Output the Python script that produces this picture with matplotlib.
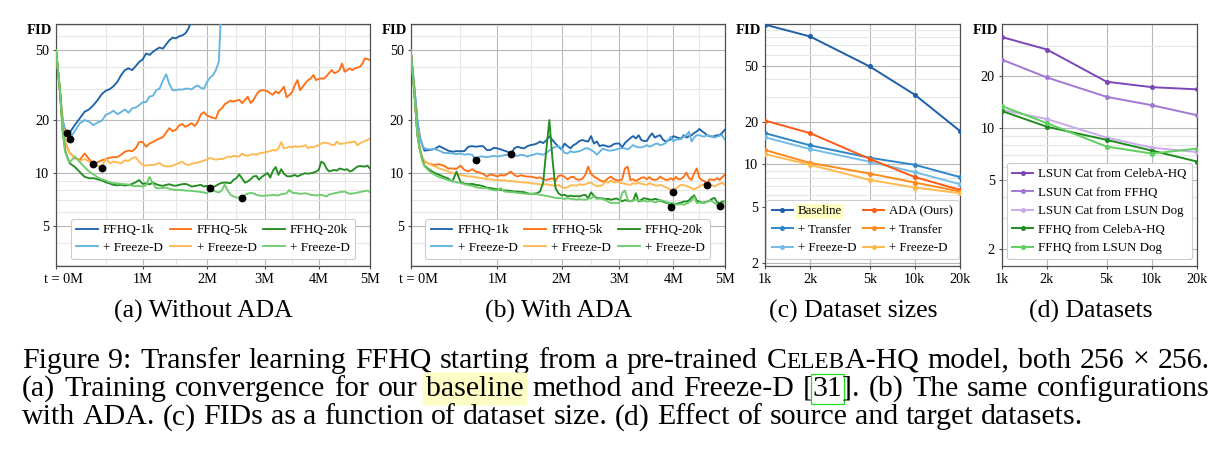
import numpy as np
import matplotlib
matplotlib.use("Agg")
import matplotlib.pyplot as plt
from matplotlib.ticker import FixedLocator, NullFormatter, LogLocator

plt.rcParams['font.family'] = ['Liberation Serif', 'DejaVu Serif']

nan = np.nan

# ---------------- data: training curves (time in millions of images) ----------------
T = [0, 0.02, 0.04, 0.06, 0.08,
     0.1, 0.15, 0.2, 0.25, 0.3, 0.35, 0.4, 0.45, 0.5, 0.55, 0.6, 0.65, 0.7, 0.75, 0.8, 0.85, 0.9, 0.95, 1.0,
     1.05, 1.1, 1.15, 1.2, 1.25, 1.3, 1.35, 1.4, 1.45, 1.5, 1.55, 1.6, 1.65, 1.7, 1.75, 1.8, 1.85, 1.9, 1.95, 2.0,
     2.05, 2.1, 2.15, 2.2, 2.25, 2.3, 2.35, 2.4, 2.45, 2.5, 2.55, 2.6, 2.65, 2.7, 2.75, 2.8, 2.85, 2.9, 2.95, 3.0,
     3.05, 3.1, 3.15, 3.2, 3.25, 3.3, 3.35, 3.4, 3.45, 3.5, 3.55, 3.6, 3.65, 3.7, 3.75, 3.8, 3.85, 3.9, 3.95, 4.0,
     4.05, 4.1, 4.15, 4.2, 4.25, 4.3, 4.35, 4.4, 4.45, 4.5, 4.55, 4.6, 4.65, 4.7, 4.75, 4.8, 4.85, 4.9, 4.95, 5.0]

# (a) without ADA
A_1K = [50, 30, 20, 17.5, 16.8,
        17.0, 18.8, 20.5, 22.3, 23.0, 24.3, 26.0, 28.1, 29.4, 30.0, 31.2, 33.0, 36.1, 38.5, 39.4, 38.5, 40.5, 42.9, 44.3,
        47.9, 47.0, 48.9, 50.5, 51.8, 51.0, 54.0, 57.0, 58.9, 58.4, 59.9, 60.7, 62.3, 66.4, 74.0, 90.0] + [nan] * 64
A_1K_FD = [50, 30, 20, 17.5, 16.2,
           15.7, 17.4, 19.2, 20.0, 19.6, 18.7, 19.4, 19.8, 21.4, 21.9, 22.6, 21.6, 22.2, 23.0, 22.0, 23.3, 23.6, 24.3, 25.3,
           25.3, 27.2, 27.5, 29.6, 30.2, 33.5, 36.5, 32.0, 29.6, 29.6, 29.9, 29.8, 30.2, 30.2, 29.9, 30.9, 31.5, 30.5, 30.2, 32.8,
           34.8, 36.0, 38.5, 43.0, 100.0] + [nan] * 55
A_5K = [50, 30, 19, 15.5, 13.8,
        13.0, 12.1, 11.9, 12.9, 12.0, 11.2, 11.5, 11.8, 12.0, 12.2, 12.3, 12.3, 12.7, 13.2, 13.4, 13.3, 13.8, 15.0, 15.0,
        14.1, 14.7, 15.0, 15.4, 15.7, 16.0, 17.0, 18.0, 17.3, 17.6, 18.6, 19.0, 18.3, 18.7, 19.2, 18.5, 19.5, 21.5, 22.2, 21.3,
        20.9, 20.6, 20.4, 22.6, 23.3, 24.6, 25.2, 25.8, 25.5, 25.8, 26.1, 25.0, 26.0, 27.2, 25.0, 26.0, 27.8, 29.2, 29.6, 29.5,
        29.2, 28.4, 27.9, 29.2, 28.4, 29.5, 31.0, 27.0, 27.8, 28.8, 31.5, 33.8, 29.6, 31.0, 32.5, 33.8, 34.5, 36.1, 33.8, 34.3,
        34.5, 34.5, 35.5, 37.0, 38.5, 37.0, 37.5, 38.5, 42.0, 37.7, 38.5, 39.4, 38.5, 39.4, 39.8, 40.2, 42.0, 44.9, 44.5, 43.9]
A_5K_FD = [50, 30, 19, 15.5, 13.8,
           13.0, 12.2, 11.7, 12.0, 11.6, 11.3, 11.0, 10.7, 12.1, 11.35, 11.6, 11.5, 11.35, 11.8, 11.7, 12.1, 12.3, 11.6, 11.1,
           11.0, 11.1, 11.1, 11.2, 11.4, 11.0, 10.9, 10.9, 11.0, 11.2, 11.35, 11.6, 11.2, 11.1, 11.25, 11.4, 11.45, 11.6, 11.75, 11.9,
           12.2, 12.0, 11.9, 12.0, 12.0, 12.1, 12.4, 12.3, 12.5, 12.45, 12.4, 12.9, 12.6, 12.5, 12.7, 12.8, 12.7, 12.9, 13.0, 13.1,
           13.2, 13.3, 13.5, 13.4, 13.8, 15.0, 13.8, 13.9, 14.1, 14.0, 14.2, 14.1, 14.1, 14.2, 14.4, 13.8, 14.1, 14.0, 14.2, 14.4,
           14.7, 14.9, 14.8, 14.7, 14.4, 14.4, 15.1, 14.6, 14.7, 14.7, 14.9, 14.9, 15.0, 15.1, 14.4, 14.7, 15.0, 15.2, 15.4, 15.7]
A_20K = [50, 30, 17.5, 13.5, 12.2,
         11.35, 10.8, 10.1, 9.5, 9.33, 9.33, 9.2, 9.05, 8.85, 8.7, 8.55, 8.5, 8.55, 8.48, 8.52, 8.65, 8.85, 9.1, 8.66,
         8.74, 8.6, 8.81, 8.62, 8.5, 8.44, 8.55, 8.62, 8.5, 8.44, 8.55, 8.62, 8.66, 8.55, 8.36, 8.42, 8.48, 8.55, 8.36, 8.44,
         8.18, 8.3, 8.44, 8.65, 8.78, 8.81, 8.78, 8.74, 9.12, 9.33, 9.8, 9.3, 8.8, 8.95, 9.2, 9.55, 9.61, 9.15, 9.5, 9.74,
         10.0, 9.4, 10.3, 10.8, 9.74, 10.5, 9.9, 9.6, 9.55, 9.61, 9.74, 9.55, 9.7, 9.87, 9.96, 9.9, 9.95, 10.04, 10.17, 10.4,
         11.6, 11.35, 10.6, 10.2, 10.3, 10.4, 10.3, 10.6, 10.5, 10.4, 10.5, 10.2, 10.3, 10.6, 10.86, 10.95, 10.9, 10.86, 11.0, 10.6]
A_20K_FD = [50, 30, 17.5, 13.2, 12.1,
            11.5, 12.4, 11.5, 10.8, 10.17, 9.8, 9.45, 9.2, 9.05, 8.85, 8.75, 8.7, 8.66, 8.62, 8.58, 8.45, 8.4, 8.44, 8.36,
            8.5, 9.5, 8.7, 8.18, 8.18, 8.2, 8.25, 8.1, 8.04, 8.0, 8.0, 7.98, 7.93, 7.92, 7.9, 7.86, 7.83, 7.78, 7.74, 7.66,
            7.9, 7.93, 7.83, 7.73, 7.95, 8.6, 7.95, 7.5, 7.35, 7.25, 7.22, 7.18, 7.5, 7.62, 7.7, 7.64, 7.5, 7.44, 7.4, 7.42,
            7.44, 7.46, 7.5, 7.46, 7.44, 7.56, 7.6, 7.66, 8.0, 7.73, 7.68, 7.66, 7.6, 7.62, 7.66, 7.6, 7.5, 7.48, 7.44, 7.46,
            7.5, 7.42, 7.34, 7.55, 7.6, 7.66, 7.7, 7.77, 7.8, 7.83, 7.7, 7.6, 7.64, 7.66, 7.72, 7.78, 7.83, 7.88, 7.93, 7.77]

# (b) with ADA
B_1K = [50, 30, 20, 16, 14.5,
        13.4, 13.5, 13.7, 14.2, 13.8, 13.4, 13.2, 13.3, 13.3, 13.3, 14.1, 14.2, 14.1, 14.2, 14.2, 13.5, 13.5, 13.9, 13.8,
        13.6, 13.4, 13.2, 12.8, 13.8, 14.1, 13.9, 13.8, 14.2, 14.4, 14.5, 14.7, 15.1, 14.8, 15.3, 16.2, 15.4, 14.7, 14.1, 13.6,
        14.7, 14.2, 13.8, 14.4, 14.7, 15.2, 15.4, 15.2, 15.1, 16.2, 14.7, 15.1, 14.2, 14.4, 14.3, 14.1, 14.2, 14.6, 14.7, 14.7,
        14.0, 14.8, 15.3, 15.8, 16.2, 15.7, 16.4, 15.4, 15.2, 15.2, 16.1, 16.8, 15.9, 16.2, 16.4, 15.5, 15.1, 15.3, 15.5, 16.2,
        16.0, 15.8, 15.7, 16.4, 15.9, 16.2, 16.4, 16.9, 17.2, 17.8, 17.3, 16.9, 16.4, 16.2, 16.1, 16.2, 16.4, 16.4, 16.9, 17.6]
B_1K_FD = [50, 30, 20, 16, 14.3,
           13.8, 13.6, 13.7, 13.4, 13.0, 13.0, 12.9, 12.8, 12.9, 12.7, 12.8, 12.7, 11.9, 12.4, 12.4, 12.3, 12.4, 12.5, 12.4,
           12.5, 12.6, 12.7, 12.7, 12.6, 12.5, 12.7, 12.6, 12.4, 12.6, 12.7, 12.9, 12.8, 12.7, 13.0, 13.4, 13.8, 14.1, 14.2, 13.8,
           13.0, 12.9, 13.3, 13.1, 13.2, 13.3, 13.5, 13.8, 13.8, 13.5, 13.2, 12.7, 13.2, 13.7, 13.6, 13.4, 13.4, 13.5, 13.6, 13.8,
           13.8, 13.8, 13.6, 14.0, 14.4, 14.1, 14.0, 14.0, 14.1, 14.4, 14.1, 14.3, 14.6, 14.7, 14.4, 14.5, 14.8, 15.3, 16.1, 15.1,
           15.5, 15.5, 15.6, 16.1, 16.4, 17.2, 15.1, 15.9, 16.4, 16.4, 16.2, 16.1, 16.4, 16.3, 16.1, 15.9, 16.1, 16.3, 16.4, 15.5]
B_5K = [50, 28, 17, 13.8, 12.3,
        11.6, 11.25, 11.1, 11.2, 11.0, 10.6, 10.6, 10.55, 11.0, 10.4, 10.2, 10.5, 10.17, 10.04, 9.87, 9.53, 9.8, 9.7, 9.55,
        9.74, 9.65, 9.9, 10.17, 9.74, 9.53, 9.7, 9.6, 9.53, 9.53, 9.45, 9.33, 9.45, 9.2, 9.12, 9.2, 9.33, 9.0, 9.61, 9.7,
        9.5, 9.2, 9.45, 9.5, 9.2, 9.12, 9.25, 9.74, 10.86, 9.87, 9.53, 9.33, 9.1, 8.92, 9.04, 9.33, 9.53, 9.2, 9.1, 9.04,
        9.2, 10.6, 10.86, 9.12, 9.2, 9.0, 9.2, 9.38, 9.45, 9.2, 9.45, 9.2, 9.12, 9.2, 9.53, 9.3, 9.15, 9.12, 9.33, 9.12,
        9.5, 9.2, 9.25, 9.53, 10.04, 9.33, 9.12, 9.96, 10.6, 9.4, 9.1, 9.0, 8.55, 9.2, 9.15, 9.12, 9.33, 9.12, 9.45, 9.74]
B_5K_FD = [50, 28, 17, 13.8, 12.3,
           11.7, 11.2, 10.9, 10.6, 10.4, 10.2, 10.0, 9.87, 9.74, 9.65, 9.55, 9.53, 9.45, 9.38, 9.3, 9.2, 9.2, 9.12, 9.12,
           9.04, 9.1, 9.0, 9.0, 8.95, 8.9, 8.85, 8.82, 8.8, 8.74, 8.7, 8.66, 8.6, 8.58, 8.62, 8.55, 8.5, 8.42, 8.55, 8.3,
           8.18, 8.3, 8.5, 8.5, 8.44, 8.62, 8.55, 8.6, 8.74, 8.81, 8.55, 8.4, 8.44, 8.5, 8.92, 8.81, 9.04, 8.81, 8.92, 8.82,
           8.74, 8.66, 8.6, 8.55, 8.74, 8.66, 8.81, 8.66, 8.6, 8.55, 8.74, 8.62, 8.5, 8.44, 8.55, 8.44, 8.3, 8.18, 8.0, 7.83,
           8.18, 8.36, 8.55, 8.5, 8.44, 8.3, 8.18, 8.07, 8.18, 8.36, 8.55, 8.62, 8.55, 8.44, 8.5, 8.36, 8.55, 8.66, 8.8, 8.55]
B_20K = [50, 28, 16.5, 13.5, 12.0,
         11.0, 10.4, 10.0, 9.75, 9.5, 9.3, 8.92, 10.17, 8.9, 8.7, 8.62, 8.66, 8.55, 8.5, 8.4, 8.25, 8.2, 8.12, 8.07,
         8.0, 7.95, 7.93, 7.9, 7.83, 7.83, 7.8, 7.77, 7.66, 7.6, 7.62, 7.66, 7.83, 8.8, 13.5, 20.0, 12.0, 8.2, 7.65, 7.45,
         7.5, 7.34, 7.42, 7.36, 7.38, 7.34, 7.45, 7.5, 7.18, 7.75, 7.4, 7.2, 7.18, 7.15, 7.09, 7.12, 7.03, 7.1, 7.15, 7.03,
         6.9, 7.0, 6.95, 6.9, 6.97, 7.66, 6.87, 7.03, 7.18, 7.12, 7.06, 7.03, 7.12, 7.06, 6.95, 6.87, 6.78, 6.73, 6.38, 6.58,
         6.67, 6.72, 6.78, 6.87, 6.87, 6.98, 7.25, 7.45, 6.95, 6.87, 6.78, 6.8, 6.85, 6.95, 7.12, 7.2, 6.8, 6.73, 6.87, 6.87]
B_20K_FD = [50, 28, 16.5, 13.5, 11.8,
            10.9, 10.2, 9.75, 9.45, 9.28, 9.1, 9.0, 8.85, 8.76, 8.62, 8.52, 8.44, 8.3, 8.22, 8.18, 8.18, 8.05, 7.97, 7.95,
            8.18, 7.85, 7.8, 7.77, 7.75, 7.7, 7.66, 7.62, 7.6, 7.57, 7.6, 7.58, 7.5, 7.45, 7.4, 7.34, 7.28, 7.2, 7.18, 7.18,
            7.1, 7.18, 7.12, 7.09, 7.05, 7.08, 7.05, 7.03, 7.12, 7.18, 7.34, 7.1, 7.15, 7.1, 7.0, 6.87, 6.73, 6.76, 6.75, 6.73,
            7.66, 7.95, 7.03, 6.87, 6.95, 7.05, 7.0, 6.87, 6.95, 6.87, 6.9, 6.92, 6.78, 6.87, 7.0, 6.95, 6.87, 6.78, 6.75, 6.73,
            6.6, 6.62, 6.64, 6.58, 6.68, 6.8, 6.95, 7.3, 6.73, 6.78, 6.75, 6.73, 6.87, 6.95, 6.9, 6.73, 6.58, 6.44, 6.64, 6.87]

CURVE_LABELS = ["FFHQ-1k", "+ Freeze-D", "FFHQ-5k", "+ Freeze-D", "FFHQ-20k", "+ Freeze-D"]
CURVE_COLORS = ['#1f64aa', '#64b4e1', '#ff7014', '#ffb950', '#238c23', '#6ecd6e']
TIME_TICKS = [0, 1, 2, 3, 4, 5]
TIME_LABELS = ['', '1M', '2M', '3M', '4M', '5M']

# (c) dataset sizes
SIZES = [1000, 2000, 5000, 10000, 20000]
SIZE_LABELS = ['1k', '2k', '5k', '10k', '20k']
C_BASE = [98, 80.7, 49.4, 31.1, 17.2]
C_BASE_TR = [16.6, 13.6, 11.1, 9.89, 8.09]
C_BASE_FD = [15.5, 12.8, 10.4, 8.77, 7.21]
C_ADA = [20.4, 16.6, 10.9, 8.09, 6.57]
C_ADA_TR = [12.6, 10.2, 8.57, 7.4, 6.39]
C_ADA_FD = [11.8, 9.89, 7.73, 6.82, 6.22]
C_LABELS = ["Baseline", "+ Transfer", "+ Freeze-D", "ADA (Ours)", "+ Transfer", "+ Freeze-D"]
C_COLORS = ['#1f5fa8', '#2e86c9', '#74bde6', '#ff5a14', '#ff8a1c', '#ffba4f']

# (d) datasets
D_CAT_CELEBA = [33.8, 28.6, 18.6, 17.3, 16.8]
D_CAT_FFHQ = [25.0, 19.7, 15.2, 13.6, 11.9]
D_CAT_DOG = [12.8, 11.3, 8.82, 7.72, 7.27]
D_FFHQ_CELEBA = [12.6, 10.2, 8.56, 7.42, 6.41]
D_FFHQ_DOG = [13.45, 10.7, 7.83, 7.13, 7.62]
D_LABELS = ["LSUN Cat from CelebA-HQ", "LSUN Cat from FFHQ", "LSUN Cat from LSUN Dog",
            "FFHQ from CelebA-HQ", "FFHQ from LSUN Dog"]
D_COLORS = ['#7d45b9', '#a278d6', '#c9aaea', '#1e8c1e', '#5fcf5f']

# ---------------- figure ----------------
W, H = 1227, 450
fig = plt.figure(figsize=(W / 100, H / 100), dpi=100)
fig.patch.set_facecolor('white')

def ax_px(l, r, t, b):
    return fig.add_axes([l / W, 1 - b / H, (r - l) / W, (b - t) / H])

TICK_FS = 10.3

def style(ax):
    for s in ax.spines.values():
        s.set_color('#505050')
        s.set_linewidth(0.9)
    ax.tick_params(which='major', length=2.5, width=0.8, color='#505050', pad=2.5, labelsize=TICK_FS)
    ax.tick_params(which='minor', length=0)
    ax.grid(which='major', color='#b8b8b8', lw=0.8)
    ax.grid(which='minor', color='#e6e6e6', lw=0.8)
    ax.set_axisbelow(True)
    ax.annotate('FID', xy=(0, 1), xycoords='axes fraction', xytext=(-2.5, 0),
                textcoords='offset points', ha='right', va='top', fontsize=10.5, fontweight='bold')

def add_legend(ax, handles, ncol, fs, lsp):
    leg = ax.legend(handles=handles, ncol=ncol, loc='lower center', bbox_to_anchor=(0.5, 0.028),
                    fontsize=fs, handlelength=1.65, handletextpad=0.4, columnspacing=0.5,
                    labelspacing=lsp, borderpad=0.4, borderaxespad=0.0, fancybox=True, framealpha=1)
    leg.get_frame().set_edgecolor('#cccccc')
    leg.get_frame().set_linewidth(0.8)
    return leg

def fwd(x):
    x = np.asarray(x, dtype=float)
    return np.sign(x) * np.abs(x) ** 0.8

def inv(y):
    y = np.asarray(y, dtype=float)
    return np.sign(y) * np.abs(y) ** 1.25

def time_panel(ax, series):
    style(ax)
    ax.set_xscale('function', functions=(fwd, inv))
    ax.set_yscale('log')
    ax.set_xlim(0, 5)
    ax.set_ylim(2.95, 70.5)
    handles = []
    for ys, c, lab in zip(series, CURVE_COLORS, CURVE_LABELS):
        h, = ax.plot(T, ys, color=c, lw=1.35, label=lab, zorder=3)
        handles.append(h)
    for ys in series:
        arr = np.array(ys, dtype=float)
        i = int(np.nanargmin(arr))
        ax.plot(T[i], arr[i], 'o', color='black', ms=4.6, zorder=6)
    ax.xaxis.set_major_locator(FixedLocator(TIME_TICKS))
    ax.set_xticklabels(TIME_LABELS)
    ax.xaxis.set_minor_locator(FixedLocator([0.5, 1.5, 2.5, 3.5, 4.5]))
    ax.xaxis.set_minor_formatter(NullFormatter())
    ax.yaxis.set_major_locator(FixedLocator([5, 10, 20, 50]))
    ax.set_yticklabels(['5', '10', '20', '50'])
    ax.yaxis.set_minor_locator(LogLocator(base=10, subs=np.arange(2, 10) * 1.0, numticks=20))
    ax.yaxis.set_minor_formatter(NullFormatter())
    ax.annotate('t = 0M', xy=(0, 0), xycoords=('data', 'axes fraction'), xytext=(5.5, -5.0),
                textcoords='offset points', ha='center', va='top', fontsize=TICK_FS)
    add_legend(ax, handles, 3, 9.5, 0.4)
    return ax

axA = ax_px(56, 370, 24, 266)
time_panel(axA, [A_1K, A_1K_FD, A_5K, A_5K_FD, A_20K, A_20K_FD])
axB = ax_px(410.7, 724.7, 24, 266)
time_panel(axB, [B_1K, B_1K_FD, B_5K, B_5K_FD, B_20K, B_20K_FD])

def size_panel(ax, series, colors, labels, ylim, yticks, ncol):
    style(ax)
    ax.set_xscale('log')
    ax.set_yscale('log')
    ax.set_xlim(1000, 20000)
    ax.set_ylim(*ylim)
    handles = []
    for ys, c, lab in zip(series, colors, labels):
        h, = ax.plot(SIZES, ys, color=c, lw=1.4, marker='o', ms=2.6, label=lab, zorder=3)
        handles.append(h)
    ax.xaxis.set_major_locator(FixedLocator(SIZES))
    ax.set_xticklabels(SIZE_LABELS)
    ax.xaxis.set_minor_locator(FixedLocator([]))
    ax.yaxis.set_major_locator(FixedLocator(yticks))
    ax.set_yticklabels([str(v) for v in yticks])
    ax.yaxis.set_minor_locator(LogLocator(base=10, subs=np.arange(2, 10) * 1.0, numticks=20))
    ax.yaxis.set_minor_formatter(NullFormatter())
    return add_legend(ax, handles, ncol, 9.3, 0.5)

axC = ax_px(765, 960, 24, 266)
legC = size_panel(axC, [C_BASE, C_BASE_TR, C_BASE_FD, C_ADA, C_ADA_TR, C_ADA_FD], C_COLORS, C_LABELS,
                  (1.89, 99), [2, 5, 10, 20, 50], 2)
legC.get_texts()[0].set_bbox(dict(boxstyle='square,pad=0.12', fc='#ffffc2', ec='none'))

axD = ax_px(1001.7, 1197, 24, 266)
size_panel(axD, [D_CAT_CELEBA, D_CAT_FFHQ, D_CAT_DOG, D_FFHQ_CELEBA, D_FFHQ_DOG], D_COLORS, D_LABELS,
           (1.59, 40.2), [2, 5, 10, 20], 1)

# ---------------- sub-captions ----------------
SUB_FS = 18.5
for xc, txt in [(203, '(a) Without ADA'), (558.3, '(b) With ADA'),
                (853.3, '(c) Dataset sizes'), (1090.3, '(d) Datasets')]:
    fig.text(xc / W, 1 - 318 / H, txt, ha='center', va='baseline', fontsize=SUB_FS)

# ---------------- caption (justified) ----------------
renderer = fig.canvas.get_renderer()

def measure(txt, fs):
    t = fig.text(0, 0, txt, fontsize=fs)
    w = t.get_window_extent(renderer).width
    t.remove()
    return w

HL = dict(boxstyle='round,pad=0.12', fc='#fdfdc6', ec='none')
BOX = dict(boxstyle='square,pad=0.06', fc='none', ec='#22dd22', lw=0.9)

line1 = [[('Figure', {})], [('9:', {})], [('Transfer', {})], [('learning', {})], [('FFHQ', {})],
         [('starting', {})], [('from', {})], [('a', {})], [('pre-trained', {})],
         [('C', {}), ('ELEB', {'scale': 0.78}), ('A-HQ', {})], [('model,', {})], [('both', {})],
         [('256', {})], [('×', {})], [('256.', {})]]
line2 = [[('(a)', {})], [('Training', {})], [('convergence', {})], [('for', {})], [('our', {})],
         [('baseline', {'bbox': HL})], [('method', {})], [('and', {})], [('Freeze-D', {})],
         [('[', {}), ('31', {'bbox': BOX}), (']', {}), ('.', {})], [('(b)', {})], [('The', {})],
         [('same', {})], [('configurations', {})]]
line3 = [[(w, {})] for w in 'with ADA. (c) FIDs as a function of dataset size. (d) Effect of source and target datasets.'.split()]

base_fs = 19.0
w3 = sum(measure(s[0][0], base_fs) for s in line3) + (len(line3) - 1) * (measure('a a', base_fs) - measure('aa', base_fs))
CAP_FS = base_fs * (1061.0 / w3)
SPACE = measure('a a', CAP_FS) - measure('aa', CAP_FS)

def layout_line(words, y_px, x0, x1=None):
    objs, widths = [], []
    for wd in words:
        segs, tot = [], 0.0
        for txt, kw in wd:
            kw = dict(kw)
            sc = kw.pop('scale', 1.0)
            t = fig.text(0, 0, txt, fontsize=CAP_FS * sc, ha='left', va='baseline', **kw)
            w = t.get_window_extent(renderer).width
            segs.append((t, w))
            tot += w
        objs.append(segs)
        widths.append(tot)
    gap = SPACE if x1 is None else (x1 - x0 - sum(widths)) / (len(words) - 1)
    x = x0
    for segs, tot in zip(objs, widths):
        xx = x
        for t, w in segs:
            t.set_position((xx / W, 1 - y_px / H))
            xx += w
        x += tot + gap

layout_line(line1, 367.5, 22, 1210)
layout_line(line2, 396.0, 22, 1210)
layout_line(line3, 424.5, 22)

fig.savefig('out.png', dpi=100)
